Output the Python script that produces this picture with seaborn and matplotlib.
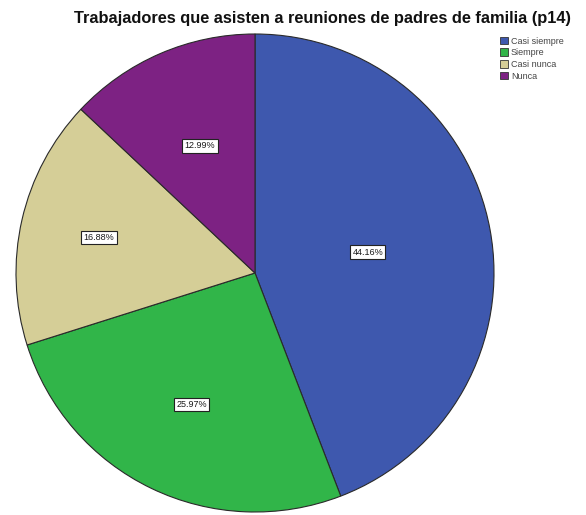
import matplotlib
matplotlib.use("Agg")
import numpy as np
import matplotlib.pyplot as plt
from matplotlib.patches import Patch
import seaborn as sns

categories = ["Casi siempre", "Siempre", "Casi nunca", "Nunca"]
percentages = [44.16, 25.97, 16.88, 12.99]
slice_colors = ["#3E58AE", "#31B549", "#D5CE97", "#7D2283"]
title = "Trabajadores que asisten a reuniones de padres de familia (p14)"

# radial position of each percentage box, as a fraction of the radius
label_radius = [0.48, 0.61, 0.67, 0.58]

sns.set_theme(style="white")
plt.rcParams["font.family"] = ["Liberation Sans", "DejaVu Sans"]

W, H = 586, 515
fig = plt.figure(figsize=(W / 100, H / 100), dpi=100)

cx, cy, r = 255, 273, 239
ax = fig.add_axes([(cx - r) / W, (H - cy - r) / H, 2 * r / W, 2 * r / H])

wedges, texts, autotexts = ax.pie(
    percentages,
    colors=slice_colors,
    startangle=90,
    counterclock=False,
    autopct=lambda p: f"{p:.2f}%",
    pctdistance=0.6,
    wedgeprops=dict(edgecolor="#2a2a2a", linewidth=0.8),
    textprops=dict(fontsize=6.5, color="#1a1a1a"),
)
for w, t, d in zip(wedges, autotexts, label_radius):
    mid = np.deg2rad((w.theta1 + w.theta2) / 2)
    t.set_position((d * np.cos(mid), d * np.sin(mid)))
    t.set_bbox(dict(boxstyle="square,pad=0.25", facecolor="white",
                    edgecolor="#222222", linewidth=0.8))
ax.set_aspect("equal")
ax.set_xlim(-1, 1)
ax.set_ylim(-1, 1)
ax.axis("off")

fig.text(322 / W, 1 - 18 / H, title, ha="center", va="center",
         fontsize=11.8, fontweight="bold", color="#111111")

handles = [Patch(facecolor=c, edgecolor="#333333", linewidth=0.6) for c in slice_colors]
fig.legend(handles, categories, loc="upper left",
           bbox_to_anchor=(495 / W, 1 - 32 / H), frameon=False,
           fontsize=6.5, handlelength=0.9, handleheight=0.9,
           handletextpad=0.35, labelspacing=0.3, borderpad=0.0,
           labelcolor="#444444")

fig.savefig("out.png", dpi=100, facecolor="white")
